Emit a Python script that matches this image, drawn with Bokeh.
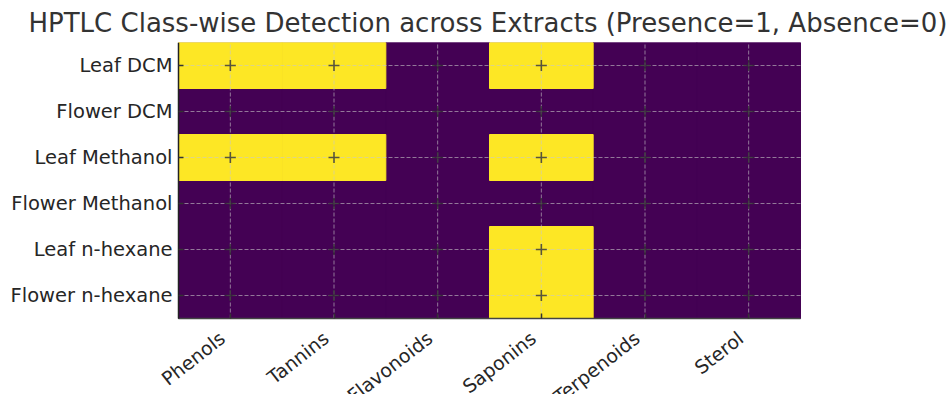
from math import pi
from bokeh.plotting import figure
from bokeh.models import ColumnDataSource, FixedTicker, Range1d
from bokeh.core.properties import value
from bokeh.embed import file_html
from bokeh.resources import INLINE

classes = ["Phenols", "Tannins", "Flavonoids", "Saponins", "Terpenoids", "Sterol"]
extracts = ["Leaf DCM", "Flower DCM", "Leaf Methanol", "Flower Methanol",
            "Leaf n-hexane", "Flower n-hexane"]
leaf_dcm = [1, 1, 0, 1, 0, 0]
flower_dcm = [0, 0, 0, 0, 0, 0]
leaf_methanol = [1, 1, 0, 1, 0, 0]
flower_methanol = [0, 0, 0, 0, 0, 0]
leaf_hexane = [0, 0, 0, 1, 0, 0]
flower_hexane = [0, 0, 0, 1, 0, 0]
presence = [leaf_dcm, flower_dcm, leaf_methanol, flower_methanol, leaf_hexane, flower_hexane]

PURPLE = "#440154"
YELLOW = "#fde725"

n_rows = len(extracts)
n_cols = len(classes)
row_pos = [n_rows - i - 0.5 for i in range(n_rows)]   # top row first
col_pos = [j + 0.5 for j in range(n_cols)]

cells = []
for ypos, row in zip(row_pos, presence):
    for xpos, v in zip(col_pos, row):
        cells.append((v, xpos, ypos))
cells.sort(key=lambda c: c[0])          # purple cells first, yellow on top
src = ColumnDataSource(dict(
    x=[c[1] for c in cells], y=[c[2] for c in cells],
    c=[YELLOW if c[0] == 1 else PURPLE for c in cells]))

# Heatmap area: 622 x 276 px placed at (178, 42); the frame covers the whole
# canvas below the title so the tick labels around it are not clipped.
col_px = 622 / n_cols
row_px = 276 / n_rows
p = figure(width=952, height=394,
           x_range=Range1d(start=-178 / col_px, end=n_cols + 152 / col_px),
           y_range=Range1d(start=-76 / row_px, end=n_rows),
           output_backend="svg", toolbar_location=None,
           min_border_left=0, min_border_right=0,
           min_border_top=42, min_border_bottom=0)

p.background_fill_color = "white"
p.outline_line_color = None
p.xgrid.visible = False
p.ygrid.visible = False

# heatmap
p.quad(left=[0], right=[n_cols], bottom=[0], top=[n_rows],
       fill_color=PURPLE, line_color=None)
p.rect(x="x", y="y", width=1, height=1, source=src, fill_color="c",
       line_color="c", line_width=1)

# dashed grid at tick positions
grid_kw = dict(line_color="#c8c8c8", line_alpha=0.6, line_dash="4 2", line_width=1)
p.segment(x0=col_pos, y0=[0] * n_cols, x1=col_pos, y1=[n_rows] * n_cols, **grid_kw)
p.segment(x0=[0] * n_rows, y0=row_pos, x1=[n_cols] * n_rows, y1=row_pos, **grid_kw)

# cross marks at grid intersections
p.scatter(x="x", y="y", source=src, marker="cross", size=11,
          line_color="#333333", line_width=1.6, line_alpha=0.8)

# title
p.title.text = "HPTLC Class-wise Detection across Extracts (Presence=1, Absence=0)"
p.title.align = "left"
p.title.offset = 28
p.title.text_font = "DejaVu Sans"
p.title.text_font_size = "26px"
p.title.text_font_style = "normal"
p.title.text_color = "#333333"

# y axis at the left edge of the heatmap
ya = p.yaxis[0]
ya.fixed_location = 0
ya.ticker = FixedTicker(ticks=row_pos)
ya.major_label_overrides = {y: name for y, name in zip(row_pos, extracts)}
ya.bounds = (0, n_rows)
ya.major_tick_in = 5
ya.major_tick_out = 0
ya.major_tick_line_color = "#333333"
ya.major_tick_line_width = 1.5
ya.minor_tick_line_color = None
ya.axis_line_color = "#222222"
ya.axis_line_width = 1.5
ya.major_label_text_font = "DejaVu Sans"
ya.major_label_text_font_size = "19.5px"
ya.major_label_text_color = "#262626"
ya.major_label_standoff = 6

# x axis at the bottom of the heatmap (line and inward ticks)
xa = p.xaxis[0]
xa.fixed_location = 0
xa.ticker = FixedTicker(ticks=col_pos)
xa.major_label_overrides = {x: "" for x in col_pos}
xa.bounds = (0, n_cols)
xa.major_tick_in = 5
xa.major_tick_out = 0
xa.major_tick_line_color = "#333333"
xa.major_tick_line_width = 1.5
xa.minor_tick_line_color = None
xa.axis_line_color = "#444444"
xa.axis_line_width = 1.5
xa.major_label_text_font_size = "0px"
xa.major_label_standoff = 0

# rotated class labels (right end at the tick, clipped at the bottom edge)
p.text(x=col_pos, y=[0] * n_cols, text=classes, angle=38 * pi / 180,
       text_align="right", text_baseline="middle", x_offset=-8, y_offset=17,
       text_font=value("DejaVu Sans"), text_font_size="19px", text_color="#262626")

open("out.html", "w").write(file_html(p, INLINE))
